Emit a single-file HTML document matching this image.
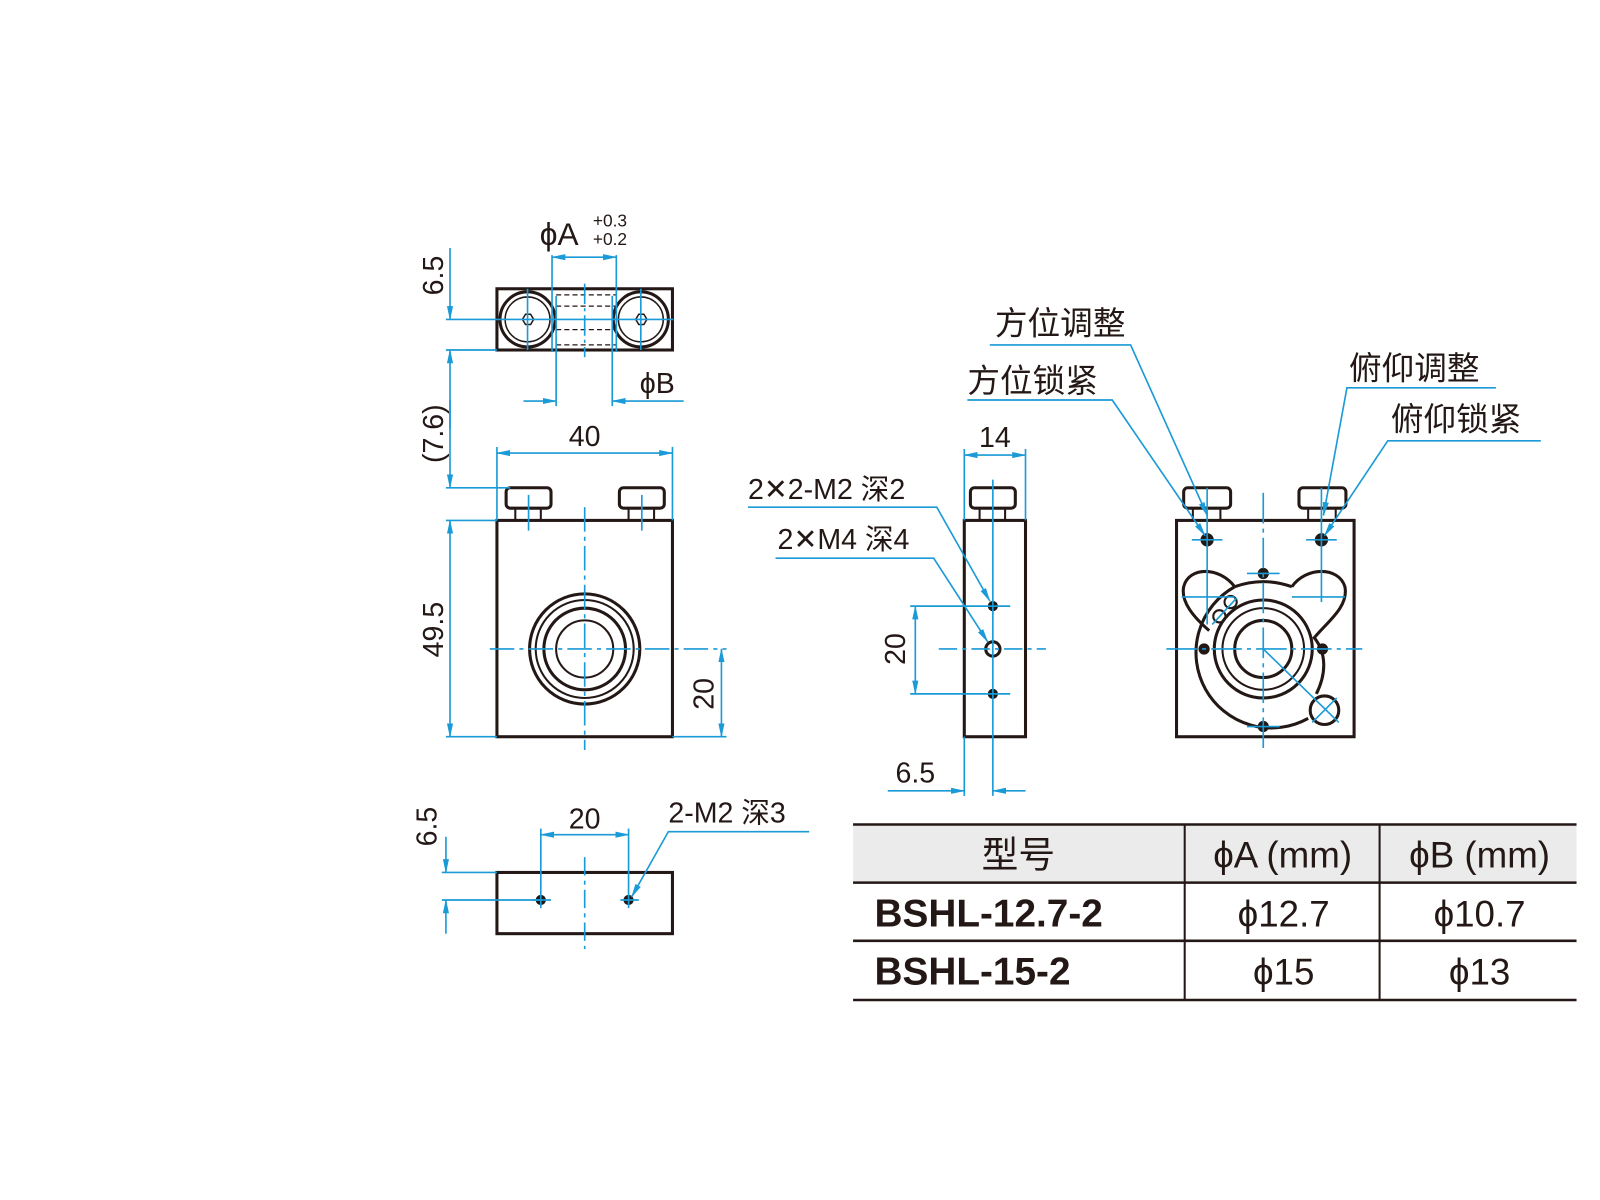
<!DOCTYPE html>
<html><head><meta charset="utf-8"><style>
html,body{margin:0;padding:0;background:#fff;width:1600px;height:1200px;overflow:hidden}
svg{display:block}
text{font-family:"Liberation Sans","Noto Sans CJK SC",sans-serif;fill:#231815}
</style></head><body>
<svg width="1600" height="1200" viewBox="0 0 1568 1176" xmlns="http://www.w3.org/2000/svg">
<defs>
<marker id="a" markerWidth="14" markerHeight="8" refX="13" refY="4" orient="auto-start-reverse" markerUnits="userSpaceOnUse"><path d="M0,1 L14,4 L0,7 Z" fill="#1a9ad6"/></marker>
</defs>
<g fill="none" stroke="#231815" stroke-width="3">
<rect x="487" y="283" width="172" height="60"/>
<circle cx="517" cy="313" r="27"/><circle cx="517" cy="313" r="22" stroke-width="1.5"/>
<circle cx="628" cy="313" r="27"/><circle cx="628" cy="313" r="22" stroke-width="1.5"/>
<path d="M512,313 l3,-5 h5 l3,5 l-3,5 h-5z M623,313 l3,-5 h5 l3,5 l-3,5 h-5z" stroke-width="1.5"/>
<g stroke-width="1.2" stroke-dasharray="5,3"><line x1="545" y1="289" x2="604" y2="289"/><line x1="545" y1="300" x2="604" y2="300"/><line x1="545" y1="323" x2="604" y2="323"/><line x1="545" y1="338" x2="604" y2="338"/></g>
<rect x="487" y="510" width="172" height="212"/>
<rect x="496" y="478" width="44" height="20" rx="4"/><rect x="505" y="498" width="25" height="12" stroke-width="2"/>
<rect x="607" y="478" width="44" height="20" rx="4"/><rect x="616" y="498" width="25" height="12" stroke-width="2"/>
<circle cx="573" cy="636" r="54"/><circle cx="573" cy="636" r="48" stroke-width="2"/><circle cx="573" cy="636" r="40"/><circle cx="573" cy="636" r="28" stroke-width="2"/>
<rect x="487" y="855" width="172" height="60"/>
<circle cx="530" cy="882" r="3.5" fill="#231815"/><circle cx="616" cy="882" r="3.5" fill="#231815"/>
<rect x="945" y="510" width="60" height="212"/>
<rect x="951" y="478" width="44" height="20" rx="4"/><rect x="960" y="498" width="25" height="12" stroke-width="2"/>
<circle cx="973" cy="594" r="3.5" fill="#231815"/><circle cx="973" cy="636" r="7"/><circle cx="973" cy="680" r="3.5" fill="#231815"/>
<rect x="1153" y="510" width="174" height="212"/>
<rect x="1160" y="478" width="46" height="20" rx="4"/><rect x="1169" y="498" width="27" height="12" stroke-width="2"/>
<rect x="1273" y="478" width="46" height="20" rx="4"/><rect x="1282" y="498" width="27" height="12" stroke-width="2"/>
<circle cx="1183" cy="529" r="5" fill="#231815"/><circle cx="1295" cy="529" r="5" fill="#231815"/>
<path d="M1210,575 C1195,555 1165,555 1160,575 C1157,590 1170,605 1185,618 M1266,575 C1280,555 1312,555 1318,575 C1322,595 1300,610 1288,625 C1300,640 1300,660 1290,680"/>
<path d="M1210,575 A68,68 0 1 0 1282,704" stroke-width="3"/>
<path d="M1210,575 Q1238,565 1266,575"/>
<circle cx="1238" cy="636" r="48"/><circle cx="1238" cy="636" r="40" stroke-width="2"/><circle cx="1238" cy="636" r="28"/>
<circle cx="1298" cy="696" r="14"/>
<circle cx="1206" cy="590" r="6" stroke-width="2"/><circle cx="1195" cy="604" r="6" stroke-width="2"/>
<circle cx="1238" cy="562" r="4" fill="#231815"/><circle cx="1238" cy="712" r="4" fill="#231815"/><circle cx="1180" cy="636" r="4" fill="#231815"/><circle cx="1296" cy="636" r="4" fill="#231815"/>
</g>
<g stroke="#1a9ad6" stroke-width="1.6" fill="none">
<line x1="541" y1="250" x2="541" y2="345"/><line x1="604" y1="250" x2="604" y2="345"/>
<line x1="541" y1="252" x2="604" y2="252" marker-start="url(#a)" marker-end="url(#a)"/>
<line x1="545" y1="290" x2="545" y2="398"/><line x1="600" y1="290" x2="600" y2="398"/>
<line x1="513" y1="393" x2="545" y2="393" marker-end="url(#a)"/><line x1="670" y1="393" x2="600" y2="393" marker-end="url(#a)"/>
<line x1="437" y1="313" x2="660" y2="313"/><line x1="437" y1="343" x2="487" y2="343"/>
<line x1="517" y1="283" x2="517" y2="343"/><line x1="628" y1="283" x2="628" y2="343"/>
<line x1="573" y1="278" x2="573" y2="350" stroke-dasharray="20,4,3,4"/>
<line x1="441" y1="243" x2="441" y2="313" marker-end="url(#a)"/>
<line x1="441" y1="420" x2="441" y2="343" marker-end="url(#a)"/>
<line x1="441" y1="392" x2="441" y2="478" marker-end="url(#a)"/>
<line x1="441" y1="510" x2="441" y2="722" marker-start="url(#a)" marker-end="url(#a)"/>
<line x1="437" y1="478" x2="500" y2="478"/><line x1="437" y1="510" x2="487" y2="510"/><line x1="437" y1="722" x2="487" y2="722"/>
<line x1="487" y1="438" x2="487" y2="510"/><line x1="659" y1="438" x2="659" y2="510"/>
<line x1="487" y1="444" x2="659" y2="444" marker-start="url(#a)" marker-end="url(#a)"/>
<line x1="480" y1="636" x2="712" y2="636" stroke-dasharray="24,5,4,5"/>
<line x1="573" y1="497" x2="573" y2="735" stroke-dasharray="24,5,4,5"/>
<line x1="518" y1="485" x2="518" y2="520"/><line x1="629" y1="485" x2="629" y2="520"/>
<line x1="707" y1="636" x2="707" y2="722" marker-start="url(#a)" marker-end="url(#a)"/>
<line x1="659" y1="722" x2="712" y2="722"/>
<line x1="573" y1="840" x2="573" y2="930" stroke-dasharray="18,5,4,5"/>
<line x1="530" y1="812" x2="530" y2="890"/><line x1="616" y1="812" x2="616" y2="890"/>
<line x1="530" y1="818" x2="616" y2="818" marker-start="url(#a)" marker-end="url(#a)"/>
<line x1="522" y1="882" x2="540" y2="882"/><line x1="608" y1="882" x2="626" y2="882"/>
<line x1="433" y1="855" x2="487" y2="855"/><line x1="433" y1="882" x2="530" y2="882"/>
<line x1="437" y1="820" x2="437" y2="855" marker-end="url(#a)"/>
<line x1="437" y1="915" x2="437" y2="882" marker-end="url(#a)"/>
<polyline points="793,815 655,815 619,879" marker-end="url(#a)"/>
<line x1="973" y1="470" x2="973" y2="780"/>
<line x1="945" y1="440" x2="945" y2="510"/><line x1="1005" y1="440" x2="1005" y2="510"/>
<line x1="945" y1="446" x2="1005" y2="446" marker-start="url(#a)" marker-end="url(#a)"/>
<line x1="892" y1="594" x2="990" y2="594"/><line x1="892" y1="680" x2="990" y2="680"/>
<line x1="897" y1="594" x2="897" y2="680" marker-start="url(#a)" marker-end="url(#a)"/>
<line x1="920" y1="636" x2="1025" y2="636" stroke-dasharray="18,5,4,5"/>
<line x1="945" y1="722" x2="945" y2="780"/>
<line x1="870" y1="775" x2="945" y2="775" marker-end="url(#a)"/><line x1="1005" y1="775" x2="973" y2="775" marker-end="url(#a)"/>
<polyline points="733,497 918,497 970,589" marker-end="url(#a)"/>
<polyline points="760,547 915,547 968,629" marker-end="url(#a)"/>
<line x1="1238" y1="483" x2="1238" y2="735" stroke-dasharray="30,5,4,5"/>
<line x1="1143" y1="636" x2="1335" y2="636" stroke-dasharray="30,5,4,5"/>
<line x1="1183" y1="478" x2="1183" y2="612"/><line x1="1295" y1="478" x2="1295" y2="590"/>
<line x1="1168" y1="529" x2="1198" y2="529"/><line x1="1280" y1="529" x2="1310" y2="529"/>
<line x1="1158" y1="585" x2="1210" y2="585"/><line x1="1266" y1="585" x2="1318" y2="585"/>
<line x1="1222" y1="562" x2="1254" y2="562"/><line x1="1222" y1="712" x2="1254" y2="712"/>
<line x1="1238" y1="636" x2="1312" y2="708"/><line x1="1286" y1="708" x2="1310" y2="684"/>
<line x1="1188" y1="612" x2="1212" y2="586"/>
<polyline points="970,338 1108,338 1183,505" marker-end="url(#a)"/>
<polyline points="948,392 1090,392 1181,525" marker-end="url(#a)"/>
<polyline points="1466,380 1320,380 1297,505" marker-end="url(#a)"/>
<polyline points="1510,432 1360,432 1298,525" marker-end="url(#a)"/>
</g>
<g font-size="28">
<text x="529" y="240" font-size="31">ϕA</text>
<text x="581" y="222" font-size="17">+0.3</text><text x="581" y="240" font-size="17">+0.2</text>
<text x="627" y="385">ϕB</text>
<text x="573" y="437" text-anchor="middle">40</text>
<text x="573" y="812" text-anchor="middle">20</text>
<text x="655" y="806">2-M2 深3</text>
<text x="975" y="438" text-anchor="middle">14</text>
<text x="897" y="767" text-anchor="middle">6.5</text>
<text x="733" y="489">2<tspan font-family="DejaVu Sans">✕</tspan>2-M2 深2</text>
<text x="762" y="538">2<tspan font-family="DejaVu Sans">✕</tspan>M4 深4</text>
<text x="975" y="328" font-size="32">方位调整</text>
<text x="948" y="384" font-size="32">方位锁紧</text>
<text x="1322" y="372" font-size="32">俯仰调整</text>
<text x="1363" y="422" font-size="32">俯仰锁紧</text>
<text transform="translate(434,270) rotate(-90)" text-anchor="middle">6.5</text>
<text transform="translate(434,425) rotate(-90)" text-anchor="middle">(7.6)</text>
<text transform="translate(434,617) rotate(-90)" text-anchor="middle">49.5</text>
<text transform="translate(699,680) rotate(-90)" text-anchor="middle">20</text>
<text transform="translate(887,636) rotate(-90)" text-anchor="middle">20</text>
<text transform="translate(428,810) rotate(-90)" text-anchor="middle">6.5</text>
</g>
<rect x="836" y="808" width="709" height="57" fill="#ebebeb"/>
<g stroke="#231815" stroke-width="2.5">
<line x1="836" y1="808" x2="1545" y2="808"/><line x1="836" y1="865" x2="1545" y2="865"/>
<line x1="836" y1="922" x2="1545" y2="922"/><line x1="836" y1="980" x2="1545" y2="980"/>
<line x1="1161" y1="808" x2="1161" y2="980" stroke-width="2"/><line x1="1352" y1="808" x2="1352" y2="980" stroke-width="2"/>
</g>
<g font-size="36" text-anchor="middle">
<text x="998" y="850">型号</text>
<text x="1257" y="850">ϕA (mm)</text>
<text x="1450" y="850">ϕB (mm)</text>
<text x="1258" y="908">ϕ12.7</text><text x="1450" y="908">ϕ10.7</text>
<text x="1258" y="965">ϕ15</text><text x="1450" y="965">ϕ13</text>
</g>
<g font-size="38" font-weight="bold">
<text x="857" y="908">BSHL-12.7-2</text>
<text x="857" y="965">BSHL-15-2</text>
</g>
</svg>
</body></html>
